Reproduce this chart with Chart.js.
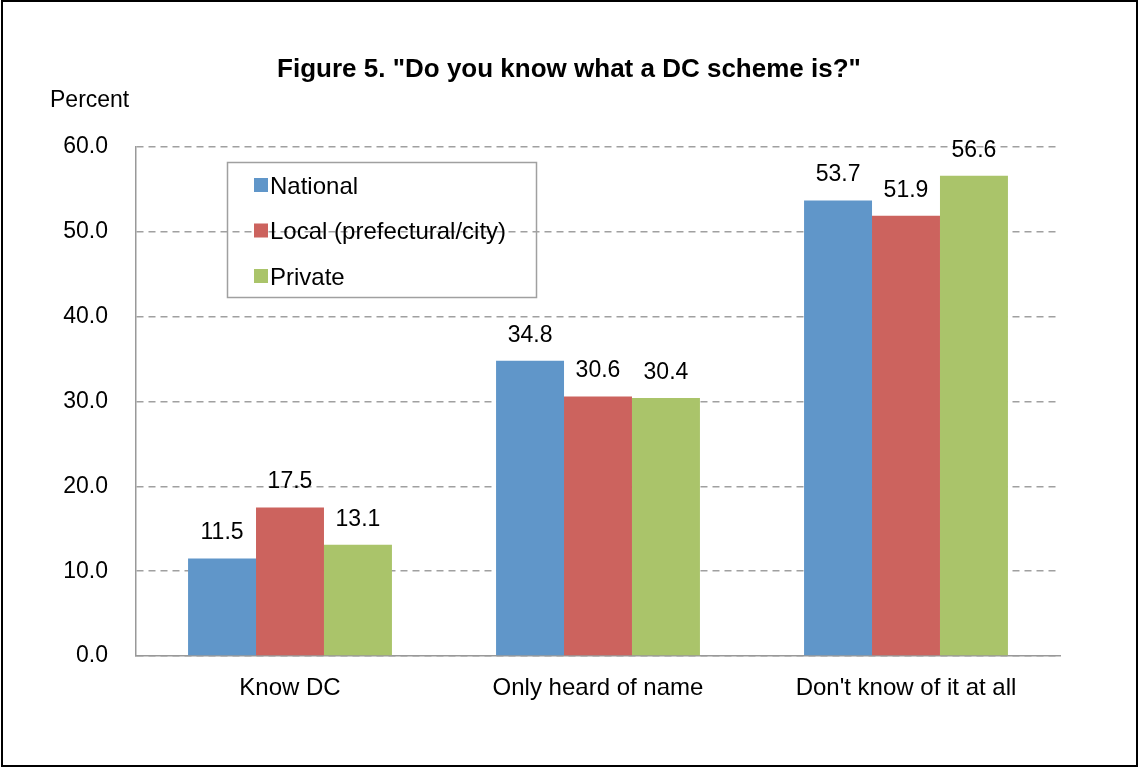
<!DOCTYPE html>
<html lang="en">
<head>
  <meta charset="UTF-8">
  <title>Figure 5</title>
  <script src="https://cdn.jsdelivr.net/npm/chart.js"></script>
  <style>
    html, body { margin: 0; padding: 0; background: #fff; }
    #wrap { width: 1138px; height: 767px; }
  </style>
</head>
<body>
<div id="wrap"><canvas id="chart" width="1138" height="767"></canvas></div>
<script>
  const categories = ['Know DC', 'Only heard of name', "Don't know of it at all"];
  const seriesNames = ['National', 'Local (prefectural/city)', 'Private'];
  const national = [11.5, 34.8, 53.7];
  const local = [17.5, 30.6, 51.9];
  const privateSector = [13.1, 30.4, 56.6];
  const colors = ['#6096C9', '#CC635E', '#AAC46A'];
  const yTicks = [0, 10, 20, 30, 40, 50, 60];

  const font = "'Liberation Sans', Arial, sans-serif";

  // titles, frame, legend box and value labels
  const decor = {
    id: 'decor',
    afterDraw(chart) {
      const ctx = chart.ctx;
      ctx.save();
      ctx.fillStyle = '#000';
      ctx.textAlign = 'center';
      ctx.textBaseline = 'middle';
      ctx.font = 'bold 26px ' + font;
      ctx.fillText('Figure 5. "Do you know what a DC scheme is?"', 569, 70);
      ctx.font = '23px ' + font;
      ctx.textAlign = 'left';
      ctx.fillText('Percent', 50, 101);

      // value labels
      ctx.font = '23px ' + font;
      ctx.textAlign = 'center';
      ctx.textBaseline = 'bottom';
      chart.data.datasets.forEach((ds, i) => {
        chart.getDatasetMeta(i).data.forEach((bar, j) => {
          ctx.fillText(ds.data[j].toFixed(1), bar.x, bar.y - 14);
        });
      });

      // legend
      ctx.strokeStyle = '#a0a0a0';
      ctx.lineWidth = 1.5;
      ctx.strokeRect(227.5, 162.5, 309, 135);
      ctx.font = '24px ' + font;
      ctx.textBaseline = 'middle';
      ctx.textAlign = 'left';
      chart.data.datasets.forEach((ds, i) => {
        const y = 187 + i * 45.5;
        ctx.fillStyle = ds.backgroundColor;
        ctx.fillRect(254, y - 9, 14, 14);
        ctx.fillStyle = '#000';
        ctx.fillText(ds.label, 270, y);
      });

      // outer frame
      ctx.strokeStyle = '#000';
      ctx.lineWidth = 2;
      ctx.strokeRect(2, 1, 1135, 765);
      ctx.restore();
    }
  };

  new Chart(document.getElementById('chart'), {
    type: 'bar',
    data: {
      labels: categories,
      datasets: [
        { label: seriesNames[0], data: national, backgroundColor: colors[0] },
        { label: seriesNames[1], data: local, backgroundColor: colors[1] },
        { label: seriesNames[2], data: privateSector, backgroundColor: colors[2] }
      ]
    },
    options: {
      responsive: false,
      animation: false,
      datasets: { bar: { categoryPercentage: 0.662, barPercentage: 1 } },
      layout: { padding: { top: 147, left: 0, right: 78, bottom: 0 } },
      plugins: { legend: { display: false }, tooltip: { enabled: false } },
      scales: {
        x: {
          afterFit(s) { s.height = 111; },
          grid: { display: false, drawTicks: false },
          border: { color: '#999', width: 1.5 },
          ticks: { color: '#000', font: { family: font, size: 24 }, padding: 18 }
        },
        y: {
          min: 0, max: 60,
          afterFit(s) { s.width = 136; },
          afterBuildTicks(s) { s.ticks = yTicks.map(v => ({ value: v })); },
          grid: { color: '#a0a0a0', lineWidth: 1.5, drawTicks: false },
          border: { color: '#999', width: 1.5, dash: [7, 5] },
          ticks: {
            color: '#000', font: { family: font, size: 23 }, padding: 28,
            callback: v => v.toFixed(1)
          }
        }
      }
    },
    plugins: [decor]
  });
</script>
</body>
</html>
